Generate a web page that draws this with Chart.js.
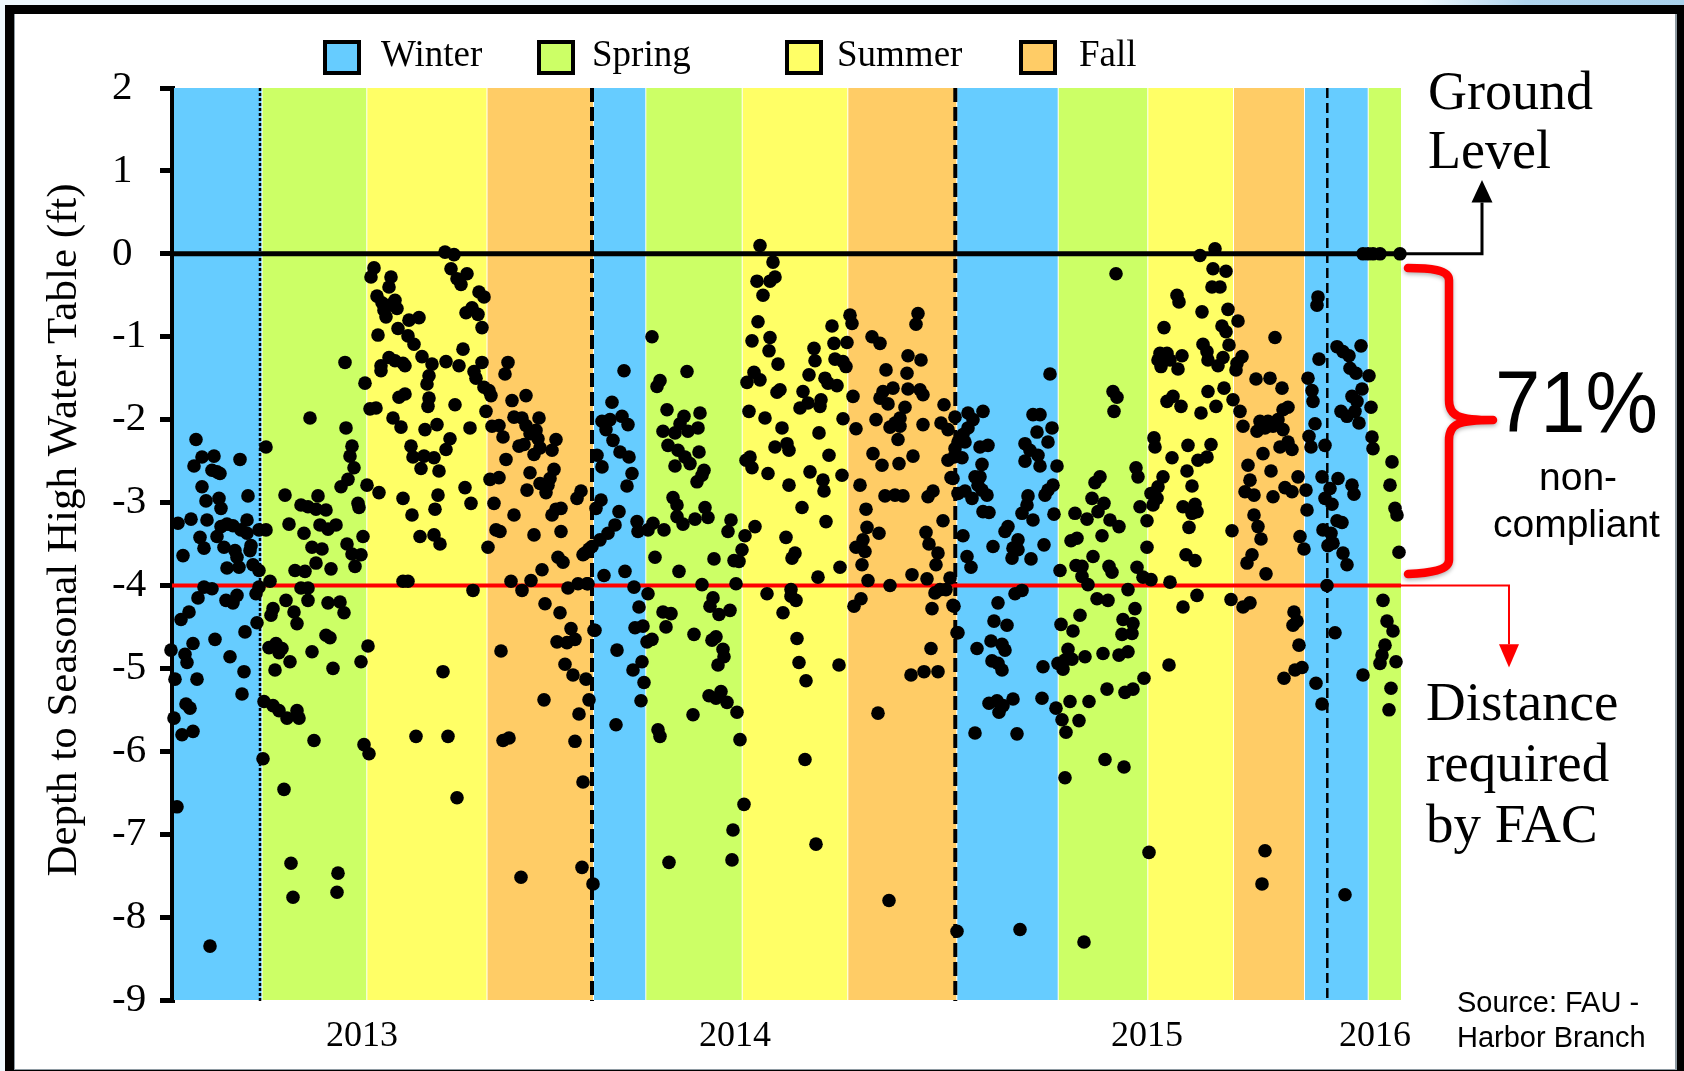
<!DOCTYPE html>
<html>
<head>
<meta charset="utf-8">
<title>Depth to Seasonal High Water Table</title>
<script src="https://cdn.jsdelivr.net/npm/chart.js@4/dist/chart.umd.min.js"></script>
<style>
  html, body { margin: 0; padding: 0; background: #fff; overflow: hidden; }
  canvas { display: block; }
</style>
</head>
<body>
<canvas id="depth-chart" width="1684" height="1071"></canvas>
<script>
// --- DATA --- readings are [position along the record, depth in ft]
const winter2013 = [[22,-2.24],[28,-2.45],[40,-2.44],[20,-2.56],[66,-2.48],[38,-2.61],[43,-2.63],[46,-2.65],[28,-2.81],[74,-2.92],[45,-2.95],[32,-2.98],[47,-3.07],[4,-3.25],[17,-3.2],[33,-3.21],[73,-3.21],[53,-3.26],[47,-3.29],[59,-3.28],[67,-3.33],[85,-3.33],[26,-3.42],[43,-3.41],[73,-3.37],[30,-3.55],[50,-3.54],[61,-3.58],[63,-3.66],[9,-3.64],[53,-3.79],[65,-3.78],[77,-3.52],[76,-3.58],[79,-3.75],[85,-3.82],[30,-4.02],[38,-4.04],[24,-4.15],[52,-4.18],[63,-4.12],[59,-4.21],[85,-4.02],[82,-4.1],[15,-4.32],[7,-4.41],[83,-4.45],[71,-4.56],[41,-4.65],[19,-4.7],[-3,-4.78],[11,-4.83],[13,-4.93],[56,-4.86],[70,-5.04],[1,-5.13],[23,-5.13],[68,-5.31],[12,-5.43],[16,-5.48],[0,-5.6],[8,-5.8],[19,-5.76],[3,-6.67],[36,-8.35]];
const spring2013 = [[92,-2.33],[136,-1.98],[171,-1.31],[191,-1.56],[172,-2.1],[178,-2.32],[176,-2.44],[180,-2.58],[174,-2.72],[167,-2.81],[193,-2.79],[111,-2.91],[144,-2.92],[184,-3.01],[185,-3.06],[127,-3.03],[134,-3.05],[142,-3.08],[152,-3.09],[115,-3.26],[146,-3.27],[162,-3.27],[154,-3.32],[130,-3.37],[189,-3.41],[92,-3.33],[173,-3.5],[138,-3.54],[148,-3.56],[178,-3.62],[187,-3.63],[142,-3.73],[181,-3.77],[157,-3.8],[121,-3.82],[131,-3.83],[127,-4.03],[134,-4.03],[96,-3.95],[112,-4.18],[134,-4.18],[154,-4.21],[166,-4.2],[170,-4.33],[99,-4.28],[97,-4.36],[120,-4.32],[123,-4.46],[152,-4.6],[156,-4.63],[194,-4.73],[95,-4.75],[102,-4.7],[108,-4.76],[105,-4.81],[138,-4.8],[116,-4.92],[159,-5],[187,-4.92],[101,-5.02],[90,-5.4],[99,-5.45],[105,-5.51],[113,-5.6],[123,-5.51],[125,-5.6],[140,-5.87],[190,-5.92],[195,-6.03],[89,-6.09],[110,-6.46],[117,-7.35],[164,-7.47],[163,-7.7],[119,-7.76]];
const summer2013 = [[200,-0.17],[197,-0.28],[217,-0.28],[215,-0.4],[203,-0.51],[221,-0.56],[208,-0.59],[215,-0.62],[223,-0.66],[210,-0.68],[212,-0.76],[245,-0.77],[235,-0.8],[224,-0.9],[204,-0.98],[234,-0.99],[240,-1.09],[271,0.02],[280,-0.01],[277,-0.18],[293,-0.24],[283,-0.3],[287,-0.37],[305,-0.46],[310,-0.52],[298,-0.65],[292,-0.71],[304,-0.73],[308,-0.89],[289,-1.15],[215,-1.25],[221,-1.29],[229,-1.32],[231,-1.35],[248,-1.24],[258,-1.33],[272,-1.3],[285,-1.35],[308,-1.31],[207,-1.35],[207,-1.41],[255,-1.47],[300,-1.42],[302,-1.5],[253,-1.57],[310,-1.61],[315,-1.65],[317,-1.71],[255,-1.74],[231,-1.69],[225,-1.73],[254,-1.84],[281,-1.82],[196,-1.87],[202,-1.86],[219,-1.98],[227,-2.09],[263,-2.06],[251,-2.12],[296,-2.1],[312,-1.9],[276,-2.23],[237,-2.32],[272,-2.36],[239,-2.45],[250,-2.44],[260,-2.46],[247,-2.59],[265,-2.62],[291,-2.82],[205,-2.88],[264,-2.91],[229,-2.95],[297,-3.01],[261,-3.08],[238,-3.15],[246,-3.41],[260,-3.39],[266,-3.5],[314,-3.54],[229,-3.95],[234,-3.95],[299,-4.06],[269,-5.04],[242,-5.82],[274,-5.82],[283,-6.56]];
const fall2013 = [[334,-1.31],[331,-1.45],[338,-1.77],[352,-1.71],[340,-1.97],[348,-1.98],[365,-1.98],[352,-2.07],[318,-2.08],[325,-2.07],[362,-2.13],[356,-2.17],[329,-2.21],[364,-2.23],[382,-2.24],[350,-2.3],[345,-2.32],[378,-2.37],[366,-2.34],[360,-2.42],[332,-2.48],[380,-2.6],[356,-2.64],[316,-2.72],[325,-2.7],[376,-2.71],[366,-2.77],[374,-2.79],[372,-2.88],[353,-2.85],[407,-2.86],[403,-2.95],[320,-3.01],[387,-3.07],[382,-3.08],[378,-3.15],[340,-3.15],[322,-3.33],[326,-3.35],[360,-3.39],[387,-3.35],[384,-3.66],[389,-3.72],[368,-3.81],[337,-3.95],[357,-3.94],[348,-4.06],[394,-4.03],[404,-3.98],[414,-3.98],[371,-4.22],[386,-4.33],[397,-4.52],[383,-4.68],[393,-4.69],[401,-4.65],[327,-4.79],[391,-4.95],[399,-5.08],[412,-5.13],[370,-5.38],[415,-5.38],[405,-5.55],[329,-5.87],[335,-5.84],[401,-5.88],[409,-6.37],[408,-7.4],[347,-7.52],[419,-7.6],[409,-3.63],[415,-3.56],[420,-4.54]];
const winter2014 = [[411,-3.61],[418,-3.53],[426,-3.45],[434,-3.37],[441,-3.27],[422,-3.07],[427,-2.97],[445,-3.11],[463,-3.23],[464,-3.35],[474,-3.33],[479,-3.25],[453,-2.8],[458,-2.65],[428,-2.57],[423,-2.43],[455,-2.45],[446,-2.39],[439,-2.25],[454,-2.06],[448,-1.96],[428,-2.02],[436,-2],[432,-2.12],[438,-1.79],[450,-1.41],[430,-3.88],[451,-3.83],[460,-4.02],[413,-3.98],[474,-4.1],[465,-4.26],[469,-4.49],[461,-4.51],[421,-4.54],[443,-4.78],[473,-4.68],[478,-4.65],[468,-4.92],[459,-5.02],[470,-5.17],[467,-5.39],[442,-5.68]];
const spring2014 = [[478,-1],[486,-1.53],[483,-1.6],[513,-1.42],[493,-1.88],[526,-1.92],[510,-1.96],[506,-2.05],[524,-2.1],[514,-2.14],[489,-2.14],[501,-2.16],[494,-2.31],[525,-2.39],[504,-2.37],[511,-2.45],[516,-2.53],[501,-2.56],[530,-2.61],[528,-2.67],[523,-2.75],[499,-2.94],[503,-3.03],[531,-3.06],[534,-3.18],[521,-3.2],[509,-3.26],[503,-3.17],[557,-3.21],[554,-3.35],[571,-3.4],[581,-3.29],[568,-3.57],[560,-3.7],[565,-3.71],[540,-3.68],[481,-3.66],[490,-3.33],[505,-3.83],[528,-3.99],[562,-3.98],[539,-4.15],[536,-4.25],[545,-4.35],[556,-4.3],[489,-4.32],[497,-4.34],[492,-4.5],[520,-4.59],[538,-4.66],[542,-4.62],[549,-4.77],[550,-4.86],[544,-4.96],[535,-5.33],[547,-5.28],[542,-5.36],[553,-5.41],[563,-5.53],[519,-5.56],[484,-5.74],[486,-5.82],[566,-5.86],[570,-6.64],[559,-6.95],[558,-7.31],[495,-7.34]];
const summer2014 = [[586,0.1],[599,-0.1],[601,-0.28],[596,-0.33],[583,-0.33],[589,-0.5],[584,-0.82],[596,-1.01],[578,-1.05],[595,-1.17],[604,-1.33],[580,-1.43],[586,-1.52],[573,-1.55],[606,-1.64],[603,-1.67],[575,-1.9],[591,-1.98],[608,-2.1],[601,-2.33],[613,-2.29],[615,-2.37],[576,-2.45],[572,-2.49],[578,-2.58],[594,-2.65],[615,-2.79],[636,-2.63],[649,-2.73],[650,-2.86],[628,-3.06],[652,-3.23],[612,-3.42],[621,-3.61],[618,-3.67],[644,-3.9],[666,-3.78],[668,-2.67],[655,-2.43],[645,-2.16],[669,-1.99],[640,-1.14],[641,-1.29],[658,-0.87],[660,-1.08],[673,-1.07],[676,-0.74],[678,-0.84],[661,-1.27],[669,-1.3],[672,-1.36],[635,-1.46],[651,-1.5],[654,-1.56],[663,-1.59],[629,-1.66],[647,-1.76],[646,-1.84],[634,-1.8],[626,-1.86],[593,-4.1],[617,-4.05],[617,-4.13],[622,-4.18],[609,-4.33],[623,-4.64],[625,-4.93],[665,-4.96],[632,-5.15],[631,-6.1],[642,-7.12]];
const fall2014 = [[698,-1],[706,-1.08],[744,-0.72],[742,-0.85],[734,-1.23],[747,-1.28],[712,-1.4],[733,-1.44],[719,-1.62],[734,-1.63],[709,-1.66],[746,-1.64],[749,-1.7],[706,-1.74],[714,-1.81],[679,-1.72],[770,-1.82],[731,-1.85],[702,-2],[726,-1.98],[721,-2.04],[749,-2.06],[767,-2.04],[726,-2.08],[716,-2.09],[682,-2.11],[774,-2.12],[724,-2.24],[699,-2.41],[708,-2.55],[725,-2.53],[739,-2.44],[774,-2.49],[686,-2.79],[777,-2.7],[711,-2.92],[721,-2.91],[729,-2.92],[759,-2.86],[754,-2.93],[692,-3.08],[769,-3.22],[693,-3.3],[705,-3.37],[752,-3.36],[689,-3.45],[682,-3.54],[755,-3.5],[691,-3.59],[764,-3.61],[688,-3.75],[762,-3.75],[738,-3.87],[694,-3.94],[716,-4],[753,-3.92],[776,-3.91],[687,-4.16],[680,-4.25],[761,-4.09],[766,-4.05],[772,-4.05],[758,-4.28],[779,-4.24],[784,-4.57],[757,-4.76],[737,-5.08],[750,-5.04],[764,-5.04],[704,-5.54],[715,-7.8],[783,-8.17]];
const winter2015 = [[809,-1.9],[794,-1.92],[781,-1.97],[799,-2],[794,-2.1],[789,-2.18],[791,-2.27],[784,-2.27],[781,-2.35],[814,-2.31],[806,-2.33],[788,-2.46],[780,-2.45],[808,-2.54],[801,-2.69],[806,-2.69],[804,-2.79],[779,-2.71],[808,-2.85],[813,-2.91],[791,-2.86],[784,-2.89],[798,-2.95],[809,-3.11],[815,-3.12],[876,-1.45],[859,-1.94],[866,-1.94],[878,-2.1],[863,-2.15],[874,-2.27],[851,-2.29],[856,-2.37],[864,-2.43],[851,-2.5],[866,-2.56],[883,-2.56],[879,-2.79],[874,-2.85],[871,-2.91],[854,-2.92],[853,-3.03],[848,-3.13],[859,-3.21],[880,-3.14],[834,-3.29],[831,-3.35],[844,-3.45],[789,-3.4],[819,-3.53],[839,-3.55],[870,-3.51],[793,-3.65],[844,-3.57],[838,-3.67],[857,-3.68],[797,-3.78],[886,-3.82],[848,-4.06],[841,-4.1],[824,-4.21],[780,-4.25],[820,-4.43],[833,-4.48],[783,-4.57],[803,-4.76],[817,-4.67],[828,-4.71],[831,-4.78],[818,-4.91],[824,-4.94],[828,-5.02],[869,-4.98],[839,-5.37],[868,-5.36],[815,-5.42],[823,-5.39],[829,-5.45],[825,-5.53],[801,-5.78],[843,-5.79],[846,-8.15]];
const spring2015 = [[942,-0.24],[939,-1.66],[943,-1.73],[940,-1.9],[962,-2.58],[964,-2.69],[926,-2.69],[921,-2.76],[918,-2.95],[966,-3.05],[930,-3.01],[924,-3.11],[901,-3.13],[913,-3.2],[936,-3.21],[945,-3.29],[973,-3.22],[928,-3.4],[903,-3.43],[897,-3.46],[973,-3.54],[919,-3.65],[902,-3.76],[908,-3.77],[935,-3.77],[938,-3.84],[963,-3.78],[908,-3.89],[969,-3.9],[977,-3.93],[914,-3.99],[954,-4.05],[923,-4.16],[934,-4.18],[961,-4.28],[906,-4.36],[887,-4.47],[949,-4.41],[959,-4.46],[899,-4.55],[958,-4.58],[948,-4.59],[894,-4.77],[929,-4.82],[911,-4.86],[954,-4.8],[945,-4.84],[898,-4.89],[884,-4.94],[891,-4.9],[889,-5.01],[970,-5.12],[933,-5.25],[959,-5.25],[951,-5.29],[896,-5.4],[915,-5.4],[882,-5.48],[888,-5.62],[905,-5.63],[892,-5.77],[931,-6.1],[950,-6.19],[891,-6.32],[975,-7.22],[910,-8.3]];
const summer2015 = [[1026,-0.02],[1041,0.06],[1039,-0.18],[1052,-0.21],[1038,-0.4],[1046,-0.4],[1003,-0.5],[1005,-0.58],[1028,-0.7],[1054,-0.67],[1064,-0.81],[990,-0.89],[1048,-0.87],[1052,-0.94],[1029,-1.09],[1055,-1.1],[1033,-1.18],[986,-1.2],[993,-1.2],[1008,-1.23],[984,-1.28],[996,-1.28],[987,-1.36],[1004,-1.39],[1034,-1.28],[1049,-1.25],[1044,-1.35],[1068,-1.24],[1063,-1.32],[1062,-1.4],[1034,-1.66],[1050,-1.62],[993,-1.78],[999,-1.72],[1007,-1.84],[1042,-1.84],[1027,-1.92],[1059,-1.76],[1066,-1.9],[980,-2.22],[981,-2.33],[1014,-2.31],[1037,-2.3],[998,-2.46],[1033,-2.45],[1024,-2.49],[1013,-2.62],[989,-2.69],[984,-2.81],[977,-2.89],[1018,-2.8],[983,-2.95],[979,-3.03],[1009,-3.05],[1021,-3.02],[1018,-3.13],[1023,-3.11],[1015,-3.3],[1058,-3.34],[1012,-3.63],[1021,-3.7],[996,-3.96],[1023,-4.12],[1009,-4.26],[1057,-4.17],[995,-4.96]];
const fall2015 = [[1101,-1.01],[1082,-1.51],[1096,-1.5],[1108,-1.62],[1114,-1.85],[1109,-1.88],[1069,-2.08],[1086,-2.02],[1094,-2.02],[1104,-2],[1083,-2.14],[1091,-2.1],[1099,-2.08],[1109,-2.12],[1106,-2.33],[1114,-2.27],[1118,-2.36],[1089,-2.41],[1074,-2.55],[1097,-2.62],[1076,-2.73],[1124,-2.69],[1111,-2.82],[1118,-2.87],[1132,-2.85],[1071,-2.87],[1080,-2.91],[1099,-2.93],[1133,-3.09],[1080,-3.15],[1084,-3.29],[1087,-3.44],[1126,-3.41],[1130,-3.56],[1078,-3.63],[1073,-3.73],[1092,-3.86],[1069,-4.26],[1076,-4.21],[1120,-4.32],[1123,-4.43],[1119,-4.48],[1125,-4.72],[1128,-4.99],[1121,-5.02],[1110,-5.12],[1091,-7.2],[1088,-7.6]];
const winter2016 = [[1144,-0.52],[1143,-0.62],[1163,-1.12],[1187,-1.11],[1169,-1.18],[1175,-1.23],[1145,-1.27],[1176,-1.38],[1182,-1.44],[1195,-1.47],[1134,-1.5],[1188,-1.63],[1138,-1.65],[1139,-1.78],[1178,-1.72],[1183,-1.78],[1197,-1.85],[1167,-1.9],[1173,-1.96],[1181,-1.9],[1185,-2.04],[1141,-2.05],[1135,-2.2],[1137,-2.33],[1151,-2.31],[1148,-2.69],[1164,-2.71],[1178,-2.79],[1180,-2.9],[1156,-2.83],[1151,-2.95],[1158,-3.02],[1163,-3.22],[1168,-3.24],[1149,-3.33],[1157,-3.37],[1159,-3.49],[1154,-3.52],[1169,-3.61],[1173,-3.75],[1153,-4],[1161,-4.57],[1142,-5.18],[1189,-5.08],[1148,-5.43],[1171,-7.73],[1189,0],[1194,0]];
const spring2016 = [[1199,0],[1206,0],[1226,0],[1198,-2.21],[1199,-2.35],[1218,-2.51],[1216,-2.79],[1221,-3.07],[1223,-3.15],[1225,-3.6],[1209,-4.18],[1213,-4.43],[1219,-4.55],[1211,-4.72],[1208,-4.84],[1206,-4.94],[1222,-4.92],[1217,-5.24],[1215,-5.5]];

const yTickStep = 1;
const yMin = -9;
const yMax = 2;
const xMin = -2;
const xMax = 1227;
const yearLabels = ['2013', '2014', '2015', '2016'];
const yearLabelPositions = [188, 561, 973, 1201];
const groundLevel = 0;
const requiredDepth = -4;

// left edge of every season band, last value closes the final band
const seasonEdges = [0, 88.5, 193.3, 313.5, 420, 472.3, 568.7, 674.3, 783.3, 884.7, 974.3, 1060, 1131, 1194.7, 1227];
const seasonOrder = ['Winter', 'Spring', 'Summer', 'Fall', 'Winter', 'Spring', 'Summer', 'Fall', 'Winter', 'Spring', 'Summer', 'Fall', 'Winter', 'Spring'];
const seasonColors = { Winter: '#66CCFF', Spring: '#CCFF66', Summer: '#FFFF66', Fall: '#FFCC66' };
const yearBreaks = [86, 418, 781.3, 1153.3];

// --- STYLE / LAYOUT ---
const SERIF = '"Liberation Serif", serif';
const SANS = '"Liberation Sans", sans-serif';
const breakStyles = [
    { width: 2.5, dash: [3, 2] },
    { width: 4, dash: [14, 5] },
    { width: 4, dash: [14, 5] },
    { width: 2.5, dash: [10, 5] }
];
const legendItems = [
    { name: 'Winter', box: 325, text: 381 },
    { name: 'Spring', box: 539, text: 592 },
    { name: 'Summer', box: 787, text: 837 },
    { name: 'Fall', box: 1021, text: 1079 }
];
const notes = [
    { text: 'Ground', x: 1428, y: 109, font: `54px ${SERIF}`, maxWidth: 169 },
    { text: 'Level', x: 1428, y: 168, font: `54px ${SERIF}` },
    { text: 'Distance', x: 1426, y: 720, font: `55px ${SERIF}` },
    { text: 'required', x: 1426, y: 781, font: `55px ${SERIF}` },
    { text: 'by FAC', x: 1426, y: 842, font: `55px ${SERIF}` },
    { text: '71%', x: 1495, y: 432, font: `88px ${SANS}`, maxWidth: 163 },
    { text: 'non-', x: 1539, y: 490, font: `39px ${SANS}` },
    { text: 'compliant', x: 1493, y: 537, font: `39px ${SANS}` },
    { text: 'Source: FAU -', x: 1457, y: 1012, font: `29px ${SANS}` },
    { text: 'Harbor Branch', x: 1457, y: 1047, font: `29px ${SANS}` }
];

// --- PLUGINS ---
const paintFrame = (ctx) => {
    ctx.fillStyle = '#EEF8FD';
    ctx.fillRect(0, 0, 1684, 1071);
    const swoosh = ctx.createLinearGradient(1420, 0, 1684, 0);
    swoosh.addColorStop(0, '#EEF8FD');
    swoosh.addColorStop(0.4, '#B0D5EE');
    swoosh.addColorStop(1, '#A9D2EC');
    ctx.fillStyle = swoosh;
    ctx.fillRect(1420, 0, 264, 5);
    ctx.fillStyle = '#000';
    ctx.fillRect(5, 5, 1679, 1066);
    ctx.fillStyle = '#8E9AA2';
    ctx.fillRect(14, 14, 1663, 1056);
    ctx.fillStyle = '#fff';
    ctx.fillRect(15, 14, 1660, 1055);
};

const backdropPlugin = {
    id: 'backdrop',
    beforeDraw(chart) {
        paintFrame(chart.ctx);
    },
    beforeDatasetsDraw(chart) {
        const { ctx, chartArea, scales: { x } } = chart;
        const height = chartArea.bottom - chartArea.top;
        ctx.save();
        seasonOrder.forEach((season, i) => {
            const left = x.getPixelForValue(seasonEdges[i]);
            const right = x.getPixelForValue(seasonEdges[i + 1]);
            ctx.fillStyle = seasonColors[season];
            ctx.fillRect(left, chartArea.top, right - left - (i < seasonOrder.length - 1 ? 1 : 0), height);
        });
        ctx.strokeStyle = '#000';
        yearBreaks.forEach((value, i) => {
            const px = x.getPixelForValue(value);
            ctx.lineWidth = breakStyles[i].width;
            ctx.setLineDash(breakStyles[i].dash);
            ctx.beginPath();
            ctx.moveTo(px, chartArea.top);
            ctx.lineTo(px, chartArea.bottom + 1);
            ctx.stroke();
        });
        ctx.restore();
    }
};

// thin line leaving the plot, ending in a triangular head
const connector = (chart, level, endX, baseLevel, tipLevel, halfWidth, color, width) => {
    const { ctx, scales: { x, y } } = chart;
    const px = x.getPixelForValue(endX);
    ctx.strokeStyle = color;
    ctx.fillStyle = color;
    ctx.lineWidth = width;
    ctx.beginPath();
    ctx.moveTo(x.getPixelForValue(xMax), y.getPixelForValue(level));
    ctx.lineTo(px, y.getPixelForValue(level));
    ctx.lineTo(px, y.getPixelForValue(baseLevel));
    ctx.stroke();
    ctx.beginPath();
    ctx.moveTo(px, y.getPixelForValue(tipLevel));
    ctx.lineTo(px - halfWidth, y.getPixelForValue(baseLevel));
    ctx.lineTo(px + halfWidth, y.getPixelForValue(baseLevel));
    ctx.closePath();
    ctx.fill();
};

const annotationPlugin = {
    id: 'annotations',
    afterDraw(chart) {
        const { ctx } = chart;
        ctx.save();

        // legend row
        ctx.textBaseline = 'alphabetic';
        ctx.textAlign = 'left';
        legendItems.forEach(item => {
            ctx.fillStyle = seasonColors[item.name];
            ctx.fillRect(item.box, 42, 34, 31);
            ctx.strokeStyle = '#000';
            ctx.lineWidth = 4;
            ctx.strokeRect(item.box, 42, 34, 31);
            ctx.fillStyle = '#000';
            ctx.font = `37px ${SERIF}`;
            ctx.fillText(item.name, item.text, 66);
        });

        // y title
        ctx.save();
        ctx.translate(76, 530);
        ctx.rotate(-Math.PI / 2);
        ctx.textAlign = 'center';
        ctx.font = `43px ${SERIF}`;
        ctx.fillText('Depth to Seasonal High Water Table (ft)', 0, 0);
        ctx.restore();

        connector(chart, groundLevel, 1308, 0.62, 0.89, 10.5, '#000', 3);
        connector(chart, requiredDepth, 1335, -4.71, -4.99, 10, '#FF0000', 2);

        // red brace
        ctx.save();
        ctx.strokeStyle = '#FF0000';
        ctx.lineWidth = 8.5;
        ctx.lineCap = 'round';
        ctx.lineJoin = 'round';
        ctx.shadowColor = 'rgba(0,0,0,0.3)';
        ctx.shadowBlur = 4;
        ctx.shadowOffsetY = 2;
        ctx.beginPath();
        ctx.moveTo(1408, 268);
        ctx.bezierCurveTo(1430, 268, 1449, 270, 1449, 280);
        ctx.lineTo(1449, 400);
        ctx.bezierCurveTo(1449, 416, 1458, 420, 1493, 420);
        ctx.bezierCurveTo(1458, 420, 1449, 424, 1449, 440);
        ctx.lineTo(1449, 560);
        ctx.bezierCurveTo(1449, 570, 1430, 573, 1408, 574);
        ctx.stroke();
        ctx.restore();

        // side notes
        ctx.fillStyle = '#000';
        notes.forEach(n => {
            ctx.font = n.font;
            if (n.maxWidth) ctx.fillText(n.text, n.x, n.y, n.maxWidth);
            else ctx.fillText(n.text, n.x, n.y);
        });
        ctx.restore();
    }
};

// --- CHART ---
const readings = [winter2013, spring2013, summer2013, fall2013, winter2014, spring2014, summer2014, fall2014, winter2015, spring2015, summer2015, fall2015, winter2016, spring2016]
    .flat().map(([x, y]) => ({ x, y }));

const levelLine = (level, color, width, order) => ({
    data: [{ x: xMin, y: level }, { x: xMax, y: level }],
    showLine: true,
    pointRadius: 0,
    borderColor: color,
    borderWidth: width,
    clip: false,
    order
});

new Chart(document.getElementById('depth-chart'), {
    type: 'scatter',
    plugins: [backdropPlugin, annotationPlugin],
    data: {
        datasets: [
            { label: 'Depth', data: readings, pointRadius: 6.8, pointBorderWidth: 0, backgroundColor: '#000', clip: false, order: 1 },
            levelLine(groundLevel, '#000', 5, 0),
            levelLine(requiredDepth, '#FF0000', 4, 2)
        ]
    },
    options: {
        responsive: false,
        animation: false,
        layout: { padding: { left: 112, right: 283, top: 88, bottom: 21 } },
        plugins: { legend: { display: false }, tooltip: { enabled: false } },
        scales: {
            x: {
                type: 'linear',
                min: xMin,
                max: xMax,
                grid: { display: false },
                border: { display: false },
                afterBuildTicks: (scale) => { scale.ticks = yearLabelPositions.map(value => ({ value })); },
                afterFit: (scale) => { scale.height = 50; },
                ticks: {
                    autoSkip: false,
                    maxRotation: 0,
                    padding: 7,
                    color: '#000',
                    font: { family: '"Liberation Serif"', size: 36 },
                    callback: (value, index) => yearLabels[index]
                }
            },
            y: {
                min: yMin,
                max: yMax,
                afterFit: (scale) => { scale.width = 60; },
                border: { color: '#000', width: 5 },
                grid: { drawOnChartArea: false, color: '#000', lineWidth: 5, tickLength: 12 },
                ticks: {
                    stepSize: yTickStep,
                    crossAlign: 'far',
                    color: '#000',
                    font: { family: '"Liberation Serif"', size: 41 }
                }
            }
        }
    }
});
</script>
</body>
</html>
